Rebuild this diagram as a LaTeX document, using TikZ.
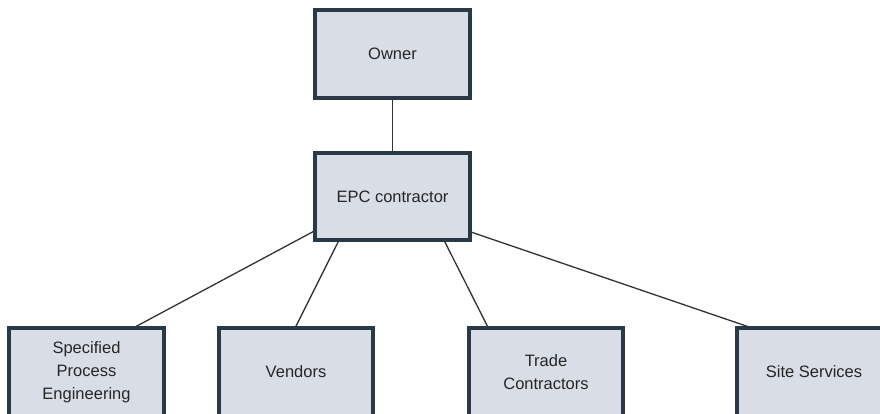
\documentclass[tikz,border=0pt]{standalone}
\usepackage{fontspec}
\setmainfont{Liberation Sans}
\definecolor{boxfill}{HTML}{D9DEE6}
\definecolor{boxline}{HTML}{2B3845}
\definecolor{linkline}{HTML}{333333}
\tikzset{
  orgbox/.style={draw=boxline, line width=2.6pt, fill=boxfill, minimum width=153pt,
    minimum height=86pt, inner sep=0pt, align=center,
    font=\fontsize{16.5}{23}\selectfont, text=black!85},
  link/.style={draw=linkline, line width=1.3pt}
}
\begin{document}
\begin{tikzpicture}[x=1pt,y=-1pt]
\useasboundingbox (0,0) rectangle (880,414);
\clip (0,0) rectangle (880,414);
\fill[white] (0,0) rectangle (880,414);
% top levels
\node[orgbox] (owner) at (392.5,54) {Owner};
\node[orgbox] (epc) at (392.5,196.5) {EPC contractor};
% bottom level
\node[orgbox] (spe) at (86.5,372) {Specified\\Process\\Engineering};
\node[orgbox] (ven) at (296,372) {Vendors};
\node[orgbox] (trade) at (546,372) {Trade\\Contractors};
\node[orgbox] (site) at (814,372) {Site Services};
% connectors
\draw[link] (owner.south) -- (epc.north);
\draw[link] ([yshift=10pt]epc.south west) -- ([xshift=125pt]spe.north west);
\draw[link] ([xshift=24pt]epc.south west) -- ([xshift=77pt]ven.north west);
\draw[link] ([xshift=-26pt]epc.south east) -- ([xshift=20pt]trade.north west);
\draw[link] ([yshift=9pt]epc.south east) -- ([xshift=15pt]site.north west);
% redraw box outlines over link ends
\foreach \n in {owner,epc,spe,ven,trade,site}
  \draw[boxline, line width=2.6pt] (\n.north west) rectangle (\n.south east);
\end{tikzpicture}
\end{document}
